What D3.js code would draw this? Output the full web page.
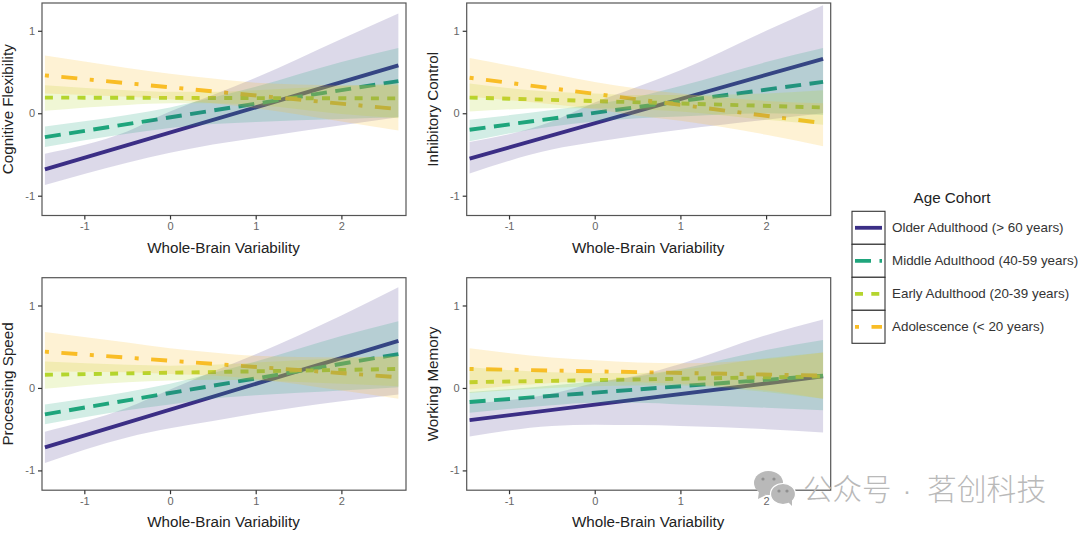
<!DOCTYPE html>
<html><head><meta charset="utf-8">
<script src="https://cdn.jsdelivr.net/npm/d3@7"></script>
<style>html,body{margin:0;background:#fff}svg{display:block}text{font-family:"Liberation Sans",Arial,sans-serif}</style>
</head><body><svg id="c" width="1080" height="533"></svg>
<script>
const panelNames=["Cognitive Flexibility","Inhibitory Control","Processing Speed","Working Memory"];
const cohorts=["Older Adulthood (> 60 years)","Middle Adulthood (40-59 years)","Early Adulthood (20-39 years)","Adolescence (< 20 years)"];
const cohortColors=["#3b2f86","#1fa57c","#b5d52e","#f9bd26"];
const dashPatterns=["none","16 8.5","8 8.3","4 12.5 16 12.5"];
const xTicks=[-1,0,1,2], yTicks=[-1,0,1];
const lineXs=[-1.46,2.665];
const xs=[-1.46,-0.5,0,0.5,1,2,2.665];
// fitted lines (start, end) per panel and cohort
const lineCF=[[-0.68,0.58],[-0.29,0.39],[0.19,0.18],[0.46,0.05]];
const lineIC=[[-0.55,0.66],[-0.20,0.38],[0.19,0.07],[0.43,-0.12]];
const linePS=[[-0.72,0.57],[-0.32,0.41],[0.16,0.23],[0.44,0.13]];
const lineWM=[[-0.39,0.14],[-0.17,0.15],[0.07,0.14],[0.23,0.15]];
// confidence bands
const upCF=[[-0.49,-0.22,0.02,0.22,0.43,0.90,1.21],[-0.16,-0.02,0.07,0.19,0.32,0.62,0.79],[0.34,0.28,0.26,0.26,0.28,0.33,0.36],[0.70,0.55,0.48,0.42,0.37,0.34,0.34]];
const loCF=[[-0.87,-0.60,-0.48,-0.38,-0.30,-0.146,-0.05],[-0.41,-0.25,-0.18,-0.13,-0.105,-0.07,-0.05],[0.03,0.10,0.12,0.12,0.10,-0.01,-0.06],[0.24,0.20,0.17,0.12,0.06,-0.10,-0.21]];
const upIC=[[-0.35,-0.10,0.13,0.32,0.52,1.00,1.31],[-0.08,0.04,0.11,0.20,0.33,0.62,0.79],[0.36,0.26,0.24,0.22,0.22,0.24,0.28],[0.67,0.48,0.38,0.30,0.24,0.15,0.12]];
const loIC=[[-0.73,-0.44,-0.35,-0.27,-0.20,-0.08,0.00],[-0.34,-0.16,-0.10,-0.06,-0.04,0.00,-0.02],[0.02,0.06,0.06,0.05,0.02,-0.08,-0.14],[0.20,0.11,0.05,-0.03,-0.09,-0.26,-0.40]];
const upPS=[[-0.53,-0.24,-0.02,0.20,0.41,0.88,1.22],[-0.20,-0.05,0.05,0.18,0.32,0.63,0.81],[0.32,0.28,0.27,0.28,0.31,0.36,0.39],[0.68,0.55,0.48,0.43,0.39,0.37,0.38]];
const loPS=[[-0.91,-0.60,-0.49,-0.40,-0.31,-0.16,-0.08],[-0.44,-0.27,-0.20,-0.13,-0.09,-0.03,0.01],[-0.01,0.07,0.09,0.10,0.09,0.05,0.02],[0.20,0.19,0.17,0.15,0.11,-0.03,-0.13]];
const upWM=[[-0.19,-0.07,0.06,0.15,0.29,0.64,0.83],[-0.05,0.03,0.08,0.14,0.23,0.46,0.58],[0.25,0.19,0.18,0.18,0.22,0.36,0.43],[0.48,0.37,0.335,0.31,0.30,0.35,0.43]];
const loWM=[[-0.59,-0.46,-0.445,-0.45,-0.46,-0.50,-0.54],[-0.30,-0.21,-0.18,-0.18,-0.20,-0.24,-0.27],[-0.06,0.00,0.02,0.03,0.03,-0.05,-0.13],[-0.02,0.06,0.08,0.07,0.05,-0.03,-0.13]];
const lineData=[lineCF,lineIC,linePS,lineWM], upData=[upCF,upIC,upPS,upWM], loData=[loCF,loIC,loPS,loWM];

const svg=d3.select("#c");
const lefts=[42,466.7], tops=[3,277.7], pw=364, ph=212.5;
const xDom=[-1.494,2.754], yDom=[-1.24,1.337];
panelNames.forEach((name,p)=>{
  const L=lefts[p%2],T=tops[p>>1];
  const x=d3.scaleLinear().domain(xDom).range([L,L+pw]);
  const y=d3.scaleLinear().domain(yDom).range([T+ph,T]);
  const g=svg.append("g");
  const line=d3.line().x((d,i)=>x(lineXs[i])).y(d=>y(d));
  [0,1,2,3].forEach(c=>{
    g.append("path").datum(lineData[p][c]).attr("d",line).attr("fill","none")
     .attr("stroke",cohortColors[c]).attr("stroke-width",3.9)
     .attr("stroke-dasharray",dashPatterns[c]=="none"?null:dashPatterns[c]);
  });
  const area=d3.area().x((d,i)=>x(xs[i])).y0(d=>y(d[0])).y1(d=>y(d[1])).curve(d3.curveMonotoneX);
  [0,1,2,3].forEach(c=>{
    g.append("path").datum(loData[p][c].map((v,i)=>[v,upData[p][c][i]])).attr("d",area)
     .attr("fill",cohortColors[c]).attr("fill-opacity",c==0?0.18:0.2);
  });
  g.append("rect").attr("x",L).attr("y",T).attr("width",pw).attr("height",ph).attr("fill","none").attr("stroke","#555").attr("stroke-width",1.2);
  const ax=g.append("g").attr("transform",`translate(0,${T+ph})`).call(d3.axisBottom(x).tickValues(xTicks).tickSize(4).tickSizeOuter(0).tickFormat(d3.format("d")));
  const ay=g.append("g").attr("transform",`translate(${L},0)`).call(d3.axisLeft(y).tickValues(yTicks).tickSize(4).tickSizeOuter(0).tickFormat(d3.format("d")));
  [ax,ay].forEach(a=>{a.select(".domain").remove();a.selectAll("line").attr("stroke","#333").attr("stroke-width",1.2);
    a.selectAll("text").attr("fill","#666").attr("font-size",11).text(d=>String(d));});
  g.append("text").attr("x",L+181.5).attr("y",T+ph+37).attr("text-anchor","middle").attr("font-size",15.2).attr("fill","#222").text("Whole-Brain Variability");
  g.append("text").attr("transform",`translate(${L-(p%2?28.5:29)},${T+ph/2}) rotate(-90)`).attr("text-anchor","middle").attr("font-size",15.2).attr("fill","#222").text(name);
});
// legend
const lg=svg.append("g");
lg.append("text").attr("x",952).attr("y",202.5).attr("text-anchor","middle").attr("font-size",15.2).attr("fill","#222").text("Age Cohort");
const legendY=d3.scaleBand().domain(cohorts).range([211.3,343.3]);
cohorts.forEach((c,i)=>{
  const ty=legendY(c),h=legendY.bandwidth();
  lg.append("rect").attr("x",852).attr("y",ty).attr("width",33).attr("height",h).attr("fill","#fff").attr("stroke","#333").attr("stroke-width",1.1);
  lg.append("line").attr("x1",855).attr("x2",882).attr("y1",ty+h/2).attr("y2",ty+h/2).attr("stroke",cohortColors[i]).attr("stroke-width",3.8).attr("stroke-dasharray",dashPatterns[i]=="none"?null:dashPatterns[i]);
  lg.append("text").attr("x",892).attr("y",ty+h/2+4.4).attr("font-size",13.4).attr("fill","#333").text(c);
});
// watermark
const wm=svg.append("g").attr("fill","#b9b9b9");
wm.append("ellipse").attr("cx",768.5).attr("cy",483).attr("rx",14.5).attr("ry",12);
wm.append("path").attr("d","M759 491l-1 8 8-4z");
wm.append("ellipse").attr("cx",783).attr("cy",494).attr("rx",12.5).attr("ry",10.5).attr("stroke","#fff").attr("stroke-width",1.2);
wm.append("path").attr("d","M788 502l4 4 0-7z");
[[763,479],[774,479],[779,491],[787,491]].forEach(e=>wm.append("circle").attr("cx",e[0]).attr("cy",e[1]).attr("r",1.6).attr("fill","#8f8f8f"));
wm.append("text").attr("x",803).attr("y",500).attr("font-size",29.5).attr("style",'font-family:"Noto Sans CJK SC";font-weight:300').text("公众号");
wm.append("text").attr("x",907).attr("y",499).attr("text-anchor","middle").attr("font-size",24).text("·");
wm.append("text").attr("x",927).attr("y",500).attr("font-size",29.8).attr("style",'font-family:"Noto Sans CJK SC";font-weight:300').text("茗创科技");
</script></body></html>
